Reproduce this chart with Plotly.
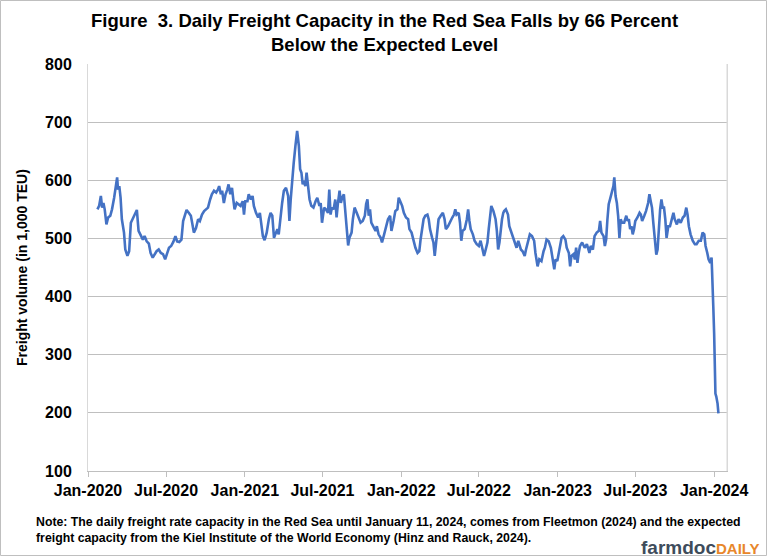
import plotly.graph_objects as go

FONT = "Liberation Sans, Arial, sans-serif"
LINE_BLUE = "#4472C4"

title_line1 = "Figure  3. Daily Freight Capacity in the Red Sea Falls by 66 Percent"
title_line2 = "Below the Expected Level"
y_title = "Freight volume (in 1,000 TEU)"
note_text = ("Note: The daily freight rate capacity in the Red Sea until January 11, 2024, comes from Fleetmon (2024) and the expected<br>"
             "freight capacity from the Kiel Institute of the World Economy (Hinz and Rauck, 2024).")

x_tick_vals = ["2020-01-01", "2020-07-01", "2021-01-01", "2021-07-01", "2022-01-01",
               "2022-07-01", "2023-01-01", "2023-07-01", "2024-01-01"]
x_tick_text = ["Jan-2020", "Jul-2020", "Jan-2021", "Jul-2021", "Jan-2022",
               "Jul-2022", "Jan-2023", "Jul-2023", "Jan-2024"]
y_tick_vals = [100, 200, 300, 400, 500, 600, 700, 800]

dates_2020 = ["2020-01-23","2020-01-27","2020-01-31","2020-02-03","2020-02-06","2020-02-09","2020-02-13","2020-02-17",
              "2020-02-22","2020-02-26","2020-03-02","2020-03-06","2020-03-09","2020-03-11","2020-03-14","2020-03-17",
              "2020-03-20","2020-03-25","2020-03-28","2020-04-02","2020-04-06","2020-04-10","2020-04-16","2020-04-20",
              "2020-04-24","2020-04-28","2020-05-03","2020-05-08","2020-05-12","2020-05-17","2020-05-22","2020-05-26",
              "2020-05-31","2020-06-05","2020-06-09","2020-06-14","2020-06-19","2020-06-24","2020-06-29","2020-07-04",
              "2020-07-08","2020-07-13","2020-07-18","2020-07-23","2020-07-27","2020-08-01","2020-08-06","2020-08-10",
              "2020-08-14","2020-08-18","2020-08-23","2020-08-28","2020-08-31","2020-09-04","2020-09-09","2020-09-14",
              "2020-09-18","2020-09-23","2020-09-28","2020-10-02","2020-10-07","2020-10-12","2020-10-16","2020-10-21",
              "2020-10-26","2020-10-30","2020-11-02","2020-11-06","2020-11-09","2020-11-13","2020-11-17","2020-11-21",
              "2020-11-24","2020-11-28","2020-12-02","2020-12-05","2020-12-08","2020-12-13","2020-12-18","2020-12-22",
              "2020-12-27","2020-12-30"]
values_2020 = [550,556,573,553,561,550,524,536,
               539,550,570,587,605,584,590,570,
               533,510,481,470,478,527,536,541,
               549,513,504,498,504,495,491,475,
               467,473,478,481,475,473,464,475,
               484,487,494,504,495,494,498,530,
               541,549,544,539,527,510,518,533,
               530,541,547,550,553,567,576,582,
               579,584,590,576,582,561,576,584,
               593,576,587,567,550,561,559,556,
               564,541]

dates_2021 = ["2021-01-02","2021-01-07","2021-01-10","2021-01-15","2021-01-19","2021-01-22","2021-01-27","2021-02-01",
              "2021-02-05","2021-02-09","2021-02-12","2021-02-16","2021-02-21","2021-02-26","2021-03-02","2021-03-06",
              "2021-03-10","2021-03-13","2021-03-18","2021-03-21","2021-03-24","2021-03-29","2021-04-02","2021-04-07",
              "2021-04-12","2021-04-15","2021-04-18","2021-04-21","2021-04-25","2021-04-29","2021-05-01","2021-05-03",
              "2021-05-07","2021-05-10","2021-05-13","2021-05-16","2021-05-19","2021-05-22","2021-05-25","2021-05-28",
              "2021-06-01","2021-06-05","2021-06-10","2021-06-15","2021-06-19","2021-06-24","2021-06-27","2021-06-30",
              "2021-07-05","2021-07-09","2021-07-14","2021-07-17","2021-07-20","2021-07-23","2021-07-27","2021-07-31",
              "2021-08-03","2021-08-06","2021-08-10","2021-08-13","2021-08-16","2021-08-20","2021-08-24","2021-08-27",
              "2021-08-30","2021-09-02","2021-09-07","2021-09-10","2021-09-14","2021-09-19","2021-09-24","2021-09-28",
              "2021-10-03","2021-10-08","2021-10-11","2021-10-14","2021-10-17","2021-10-20","2021-10-23","2021-10-28",
              "2021-11-02","2021-11-05","2021-11-09","2021-11-14","2021-11-17","2021-11-22","2021-11-26","2021-12-01",
              "2021-12-06","2021-12-09","2021-12-14","2021-12-18","2021-12-23","2021-12-26","2021-12-29"]
values_2021 = [564,564,576,567,573,556,544,536,
               544,521,504,497,510,533,544,539,
               501,507,516,507,533,561,582,587,
               573,530,567,602,630,659,678,685,
               659,619,613,593,599,590,613,587,
               567,556,553,564,570,556,561,527,
               553,550,544,584,541,553,550,567,
               536,559,582,561,570,576,544,516,
               488,501,510,533,553,544,533,527,
               530,539,559,567,539,550,527,521,
               513,521,507,501,493,507,518,533,
               539,513,530,547,550,570,565]

dates_2022 = ["2022-01-03","2022-01-07","2022-01-12","2022-01-17","2022-01-20","2022-01-25","2022-01-29","2022-02-03",
              "2022-02-08","2022-02-12","2022-02-15","2022-02-18","2022-02-22","2022-02-26","2022-03-03","2022-03-06",
              "2022-03-09","2022-03-14","2022-03-17","2022-03-20","2022-03-23","2022-03-26","2022-03-29","2022-04-03",
              "2022-04-08","2022-04-12","2022-04-15","2022-04-20","2022-04-25","2022-04-30","2022-05-04","2022-05-07",
              "2022-05-10","2022-05-15","2022-05-18","2022-05-21","2022-05-24","2022-05-29","2022-06-03","2022-06-06",
              "2022-06-09","2022-06-12","2022-06-17","2022-06-21","2022-06-26","2022-07-01","2022-07-05","2022-07-10",
              "2022-07-13","2022-07-16","2022-07-21","2022-07-24","2022-07-27","2022-07-30","2022-08-04","2022-08-09",
              "2022-08-12","2022-08-15","2022-08-18","2022-08-21","2022-08-24","2022-08-27","2022-08-29","2022-09-02",
              "2022-09-07","2022-09-10","2022-09-15","2022-09-20","2022-09-24","2022-09-27","2022-10-01","2022-10-04",
              "2022-10-07","2022-10-11","2022-10-16","2022-10-19","2022-10-24","2022-10-28","2022-11-02","2022-11-07",
              "2022-11-10","2022-11-15","2022-11-19","2022-11-24","2022-11-29","2022-12-02","2022-12-06","2022-12-11",
              "2022-12-16","2022-12-20","2022-12-24","2022-12-27","2022-12-31"]
values_2022 = [556,544,536,533,516,510,498,484,
               475,478,498,510,533,539,541,533,
               516,501,493,470,496,521,533,539,
               544,533,516,521,530,536,541,550,
               541,544,527,496,513,516,533,550,
               530,516,507,496,490,487,496,478,
               470,478,493,516,539,556,547,533,
               513,481,493,516,533,544,547,550,
               541,521,510,501,493,484,496,490,
               481,478,470,481,498,507,504,496,
               475,452,464,461,478,484,498,495,
               484,464,447,464,461]

dates_2023 = ["2023-01-05","2023-01-10","2023-01-14","2023-01-19","2023-01-22","2023-01-27","2023-01-30","2023-02-02",
              "2023-02-07","2023-02-10","2023-02-13","2023-02-16","2023-02-19","2023-02-22","2023-02-27","2023-03-02",
              "2023-03-05","2023-03-10","2023-03-13","2023-03-16","2023-03-19","2023-03-24","2023-03-28","2023-04-02",
              "2023-04-07","2023-04-10","2023-04-13","2023-04-18","2023-04-21","2023-04-24","2023-04-27","2023-04-30",
              "2023-05-03","2023-05-08","2023-05-11","2023-05-13","2023-05-16","2023-05-19","2023-05-22","2023-05-25",
              "2023-05-28","2023-05-31","2023-06-05","2023-06-10","2023-06-13","2023-06-16","2023-06-19","2023-06-22",
              "2023-06-25","2023-06-28","2023-07-01","2023-07-06","2023-07-11","2023-07-14","2023-07-17","2023-07-22",
              "2023-07-26","2023-07-31","2023-08-03","2023-08-06","2023-08-09","2023-08-12","2023-08-15","2023-08-19",
              "2023-08-22","2023-08-25","2023-08-28","2023-08-31","2023-09-03","2023-09-06","2023-09-09","2023-09-12",
              "2023-09-16","2023-09-20","2023-09-25","2023-09-28","2023-10-01","2023-10-06","2023-10-10","2023-10-15",
              "2023-10-20","2023-10-24","2023-10-28","2023-10-31","2023-11-03","2023-11-07","2023-11-12","2023-11-17",
              "2023-11-21","2023-11-26","2023-12-01","2023-12-05","2023-12-09","2023-12-12","2023-12-16","2023-12-19",
              "2023-12-23","2023-12-26","2023-12-27","2023-12-29","2023-12-30"]
values_2023 = [481,501,504,498,484,475,452,470,
               473,464,484,458,475,487,493,487,
               484,490,481,475,487,481,504,510,
               513,530,510,504,487,498,533,559,
               567,582,590,605,573,561,539,501,
               533,527,527,539,530,533,516,521,
               507,516,530,536,544,541,530,539,
               547,561,576,564,553,527,498,472,
               481,527,550,567,553,553,533,501,
               521,521,536,544,533,524,533,527,
               536,539,553,541,521,507,496,490,
               490,496,496,510,507,487,475,464,
               458,467,447,418,383]

dates_2024 = ["2024-01-01","2024-01-02","2024-01-04","2024-01-06","2024-01-09","2024-01-11"]
values_2024 = [337,291,233,228,216,199]

dates = dates_2020 + dates_2021 + dates_2022 + dates_2023 + dates_2024
capacity = values_2020 + values_2021 + values_2022 + values_2023 + values_2024

# plot-area geometry (pixels) used only for placing text outside the axes
L, R, T, B = 88, 41, 64, 86
W, H = 768, 557
PW, PH = W - L - R, H - T - B


def px(x):
    return (x - L) / PW


def py(y):
    return (H - B - y) / PH


fig = go.Figure()
fig.add_trace(go.Scatter(x=dates, y=capacity, mode="lines",
                         line=dict(color=LINE_BLUE, width=2.6), showlegend=False,
                         hoverinfo="x+y"))

fig.update_layout(
    width=W, height=H,
    margin=dict(l=L, r=R, t=T, b=B, pad=0),
    paper_bgcolor="white", plot_bgcolor="white",
    font=dict(family=FONT, color="#000000"),
    xaxis=dict(type="date", range=["2020-01-01", "2024-01-31"],
               tickvals=x_tick_vals, ticktext=x_tick_text,
               tickfont=dict(size=16, weight="bold", family=FONT, color="#000"),
               ticks="outside", ticklen=5, tickcolor="#BFBFBF", tickwidth=1,
               showgrid=False, showline=True, linecolor="#BFBFBF", linewidth=1,
               mirror=False, zeroline=False),
    yaxis=dict(range=[100, 800], tickvals=y_tick_vals,
               tickfont=dict(size=16, weight="bold", family=FONT, color="#000"),
               ticks="", ticklabelstandoff=12,
               showgrid=True, gridcolor="#BFBFBF", gridwidth=1,
               showline=True, linecolor="#D9D9D9", linewidth=1, mirror=True,
               zeroline=False),
)

# right border of plot area (light)
fig.add_shape(type="line", xref="paper", yref="paper", x0=1, x1=1, y0=0, y1=1,
              line=dict(color="#D9D9D9", width=1))
# outer chart frame
fig.add_shape(type="rect", xref="paper", yref="paper",
              x0=px(0.5), x1=px(766.5), y0=py(555.5), y1=py(0.5),
              line=dict(color="#BFBFBF", width=1), layer="above")

ann_common = dict(xref="paper", yref="paper", showarrow=False)
fig.add_annotation(text="<b>" + title_line1 + "</b>", x=px(384), y=py(20),
                   xanchor="center", yanchor="middle",
                   font=dict(size=18.5, family=FONT, color="#000"), **ann_common)
fig.add_annotation(text="<b>" + title_line2 + "</b>", x=px(384), y=py(44),
                   xanchor="center", yanchor="middle",
                   font=dict(size=18.5, family=FONT, color="#000"), **ann_common)
fig.add_annotation(text="<b>" + y_title + "</b>", x=px(22), y=py(268), textangle=-90,
                   xanchor="center", yanchor="middle",
                   font=dict(size=14, family=FONT, color="#000"), **ann_common)
fig.add_annotation(text="<b>" + note_text + "</b>", x=px(34), y=py(530),
                   xanchor="left", yanchor="middle", align="left",
                   font=dict(size=12.3, family=FONT, color="#000"), **ann_common)
fig.add_annotation(text="<b><span style='color:#3E4C5B'>farmdoc</span>"
                        "<span style='color:#E8872B;font-size:15px'>DAILY</span></b>",
                   x=px(762), y=py(547), xanchor="right", yanchor="middle",
                   font=dict(size=19, family=FONT), **ann_common)

fig.write_html("out.html", config={"displayModeBar": False},
               post_script="document.body.style.margin='0px';document.body.style.overflow='hidden';")
